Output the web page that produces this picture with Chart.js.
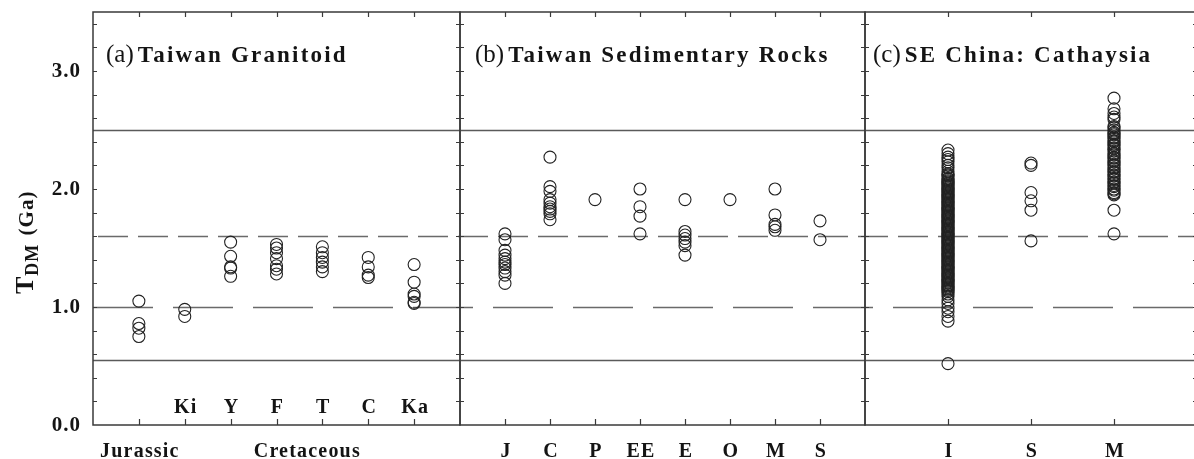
<!DOCTYPE html>
<html>
<head>
<meta charset="utf-8">
<script src="https://cdn.jsdelivr.net/npm/chart.js@4.4.1/dist/chart.umd.min.js"></script>
<style>
  html, body { margin: 0; padding: 0; background: #fff; overflow: hidden; }
  #wrap { position: relative; width: 1194px; height: 459px; overflow: hidden; background: #fff; }
  #wrap canvas { position: absolute; top: 0; }
</style>
</head>
<body>
<div id="wrap">
  <canvas id="panelA" width="470" height="459" style="left:0px"></canvas>
  <canvas id="panelB" width="425" height="459" style="left:450px"></canvas>
  <canvas id="panelC" width="352" height="459" style="left:855px"></canvas>
</div>
<script>
// ---- Nd model ages, T_DM (Ga) ----
const yTickLabels = ['0.0', '1.0', '2.0', '3.0'];

// (a) Taiwan granitoids by pluton
const granitoidUnits = ['Jurassic', 'Ki', 'Y', 'F', 'T', 'C', 'Ka'];
const granitoidInnerLabels = ['', 'Ki', 'Y', 'F', 'T', 'C', 'Ka'];
const granitoidPeriods = ['Jurassic', 'Cretaceous'];
const granitoidTdm = [
  [1.05, 0.86, 0.82, 0.75],
  [0.98, 0.92],
  [1.55, 1.43, 1.34, 1.33, 1.26],
  [1.53, 1.50, 1.46, 1.41, 1.35, 1.32, 1.28],
  [1.51, 1.46, 1.42, 1.38, 1.34, 1.30],
  [1.42, 1.34, 1.27, 1.25],
  [1.36, 1.21, 1.11, 1.09, 1.04, 1.03]
];

// (b) Taiwan sedimentary rocks by unit
const sedimentUnits = ['J', 'C', 'P', 'EE', 'E', 'O', 'M', 'S'];
const sedimentTdm = [
  [1.62, 1.57, 1.48, 1.44, 1.41, 1.38, 1.36, 1.33, 1.30, 1.27, 1.20],
  [2.27, 2.02, 1.98, 1.91, 1.88, 1.85, 1.83, 1.81, 1.79, 1.74],
  [1.91],
  [2.00, 1.85, 1.77, 1.62],
  [1.91, 1.64, 1.61, 1.58, 1.55, 1.52, 1.44],
  [1.91],
  [2.00, 1.78, 1.70, 1.68, 1.65],
  [1.73, 1.57]
];

// (c) SE China (Cathaysia) granite types
const cathaysiaTypes = ['I', 'S', 'M'];
const cathaysiaTdm = [
  [2.33, 2.30, 2.27, 2.25, 2.23, 2.20, 2.18, 2.15, 2.13, 2.12, 2.11, 2.09, 2.08, 2.07,
   2.06, 2.05, 2.04, 2.03, 2.02, 2.01, 2.00, 1.99, 1.98, 1.97, 1.96, 1.95, 1.94, 1.93,
   1.92, 1.91, 1.90, 1.89, 1.88, 1.87, 1.86, 1.85, 1.84, 1.83, 1.82, 1.81, 1.80, 1.79,
   1.78, 1.77, 1.76, 1.75, 1.74, 1.73, 1.72, 1.71, 1.70, 1.69, 1.68, 1.67, 1.66, 1.65,
   1.64, 1.63, 1.62, 1.61, 1.60, 1.59, 1.58, 1.57, 1.56, 1.55, 1.54, 1.53, 1.52, 1.51,
   1.50, 1.49, 1.48, 1.47, 1.46, 1.45, 1.44, 1.43, 1.42, 1.41, 1.40, 1.39, 1.38, 1.37,
   1.36, 1.35, 1.34, 1.33, 1.32, 1.31, 1.30, 1.29, 1.28, 1.27, 1.26, 1.25, 1.24, 1.23,
   1.22, 1.21, 1.20, 1.19, 1.18, 1.17, 1.16, 1.15, 1.14, 1.13, 1.11, 1.09, 1.06, 1.03,
   0.99, 0.96, 0.92, 0.88, 0.52],
  [2.22, 2.20, 1.97, 1.90, 1.82, 1.56],
  [2.77, 2.68, 2.64, 2.61, 2.59, 2.53, 2.52, 2.50, 2.48, 2.47, 2.46, 2.44, 2.43, 2.41,
   2.40, 2.38, 2.37, 2.35, 2.34, 2.32, 2.30, 2.29, 2.27, 2.26, 2.24, 2.23, 2.21, 2.20,
   2.18, 2.17, 2.15, 2.14, 2.12, 2.11, 2.09, 2.08, 2.06, 2.05, 2.03, 2.02, 2.00, 1.99,
   1.97, 1.96, 1.95, 1.82, 1.62]
];

// Reference age lines (Ga)
const solidLines = [2.5, 0.55];
const dashedLines = [
  { value: 1.6, dash: [30, 10], start: 98 },
  { value: 1.0, dash: [60, 20], start: 93 }
];

const SERIF = '"Liberation Serif", "Times New Roman", serif';
const INK = '#141414';

function toPoints(values) {
  return values.flatMap((list, i) => list.map(v => ({ x: i + 1, y: v })));
}

const panelPlugin = {
  id: 'panelFrame',
  beforeDatasetsDraw(chart, args, o) {
    const { ctx, chartArea: a, scales: { y } } = chart;
    const pageLeft = chart.canvas.offsetLeft + a.left;
    ctx.save();
    ctx.lineWidth = 1.4;
    ctx.strokeStyle = '#5a5a5a';
    solidLines.forEach(v => {
      const py = Math.round(y.getPixelForValue(v)) + 0.5;
      ctx.beginPath(); ctx.moveTo(a.left, py); ctx.lineTo(a.right, py); ctx.stroke();
    });
    ctx.strokeStyle = '#6a6a6a';
    dashedLines.forEach(d => {
      const period = d.dash[0] + d.dash[1];
      ctx.setLineDash(d.dash);
      ctx.lineDashOffset = (((pageLeft - d.start) % period) + period) % period;
      const py = Math.round(y.getPixelForValue(d.value)) + 0.5;
      ctx.beginPath(); ctx.moveTo(a.left, py); ctx.lineTo(a.right, py); ctx.stroke();
    });
    ctx.restore();
  },
  afterDatasetsDraw(chart, args, o) {
    const { ctx, chartArea: a, scales: { x, y } } = chart;
    ctx.save();
    // frame
    ctx.strokeStyle = '#3a3a3a';
    ctx.lineWidth = 1.5;
    ctx.strokeRect(a.left, a.top, a.right - a.left, a.bottom - a.top);
    // inward ticks on the age axes, every 0.2 Ga
    ctx.lineWidth = 1.2;
    ctx.beginPath();
    for (let k = 1; k <= 17; k++) {
      const py = Math.round(y.getPixelForValue(k * 0.2)) + 0.5;
      ctx.moveTo(a.left, py); ctx.lineTo(a.left + 4, py);
      ctx.moveTo(a.right, py); ctx.lineTo(a.right - 4, py);
    }
    // inward ticks at each category, top and bottom
    for (let i = 1; i <= o.count; i++) {
      const px = Math.round(x.getPixelForValue(i)) + 0.5;
      ctx.moveTo(px, a.top); ctx.lineTo(px, a.top + 5);
      ctx.moveTo(px, a.bottom); ctx.lineTo(px, a.bottom - 6);
    }
    ctx.stroke();

    ctx.fillStyle = INK;

    // age tick labels
    if (o.ageLabels) {
      ctx.textAlign = 'right';
      ctx.textBaseline = 'middle';
      ctx.font = 'bold 21px ' + SERIF;
      ctx.letterSpacing = '1px';
      yTickLabels.forEach(t => {
        ctx.fillText(t, a.left - 12, y.getPixelForValue(parseFloat(t)) + 1);
      });
    }

    ctx.textAlign = 'center';
    ctx.textBaseline = 'alphabetic';
    ctx.font = 'bold 20px ' + SERIF;
    ctx.letterSpacing = '1.2px';
    (o.innerLabels || []).forEach((t, i) => {
      if (t) ctx.fillText(t, x.getPixelForValue(i + 1) + 1, 413);
    });
    (o.bottomLabels || []).forEach((t, i) => {
      ctx.fillText(t, x.getPixelForValue(i + 1) + 1, 457);
    });
    (o.groups || []).forEach(g => {
      ctx.fillText(g.text, x.getPixelForValue(g.at) + 1, 457);
    });

    // panel title
    ctx.textAlign = 'left';
    ctx.letterSpacing = '0px';
    ctx.font = '25px ' + SERIF;
    const tx = a.left + o.titleDx;
    ctx.fillText(o.tag, tx, 62);
    const tagW = ctx.measureText(o.tag).width;
    ctx.font = 'bold 23px ' + SERIF;
    ctx.letterSpacing = '2.2px';
    ctx.fillText(o.title, tx + tagW + 4, 62);

    // axis title with subscript
    if (o.yTitle) {
      ctx.letterSpacing = '1px';
      ctx.translate(33, 294);
      ctx.rotate(-Math.PI / 2);
      ctx.font = 'bold 26px ' + SERIF;
      ctx.fillText('T', 0, 0);
      let w = ctx.measureText('T').width;
      ctx.font = 'bold 18px ' + SERIF;
      ctx.fillText('DM', w, 5);
      w += ctx.measureText('DM').width;
      ctx.font = 'bold 21px ' + SERIF;
      ctx.fillText(' (Ga)', w + 2, 0);
    }
    ctx.restore();
  }
};

function makePanel(id, units, values, panelOpts, pad) {
  return new Chart(document.getElementById(id), {
    type: 'scatter',
    data: {
      datasets: [{
        data: toPoints(values),
        pointStyle: 'circle',
        pointRadius: 6,
        pointHoverRadius: 6,
        borderWidth: 1.1,
        borderColor: '#222',
        backgroundColor: 'rgba(0,0,0,0)',
        clip: 8
      }]
    },
    options: {
      responsive: false,
      animation: false,
      devicePixelRatio: 1,
      events: [],
      layout: { padding: pad },
      scales: {
        x: { type: 'linear', min: 0, max: units.length + 1, display: false },
        y: { type: 'linear', min: 0, max: 3.5, display: false }
      },
      plugins: {
        legend: { display: false },
        tooltip: { enabled: false },
        panelFrame: Object.assign({ count: units.length }, panelOpts)
      }
    },
    plugins: [panelPlugin]
  });
}

makePanel('panelA', granitoidUnits, granitoidTdm, {
  tag: '(a)', title: 'Taiwan Granitoid', titleDx: 13,
  innerLabels: granitoidInnerLabels,
  groups: [{ text: granitoidPeriods[0], at: 1 }, { text: granitoidPeriods[1], at: 4.65 }],
  ageLabels: true,
  yTitle: true
}, { left: 93, right: 10, top: 12, bottom: 34 });

makePanel('panelB', sedimentUnits, sedimentTdm, {
  tag: '(b)', title: 'Taiwan Sedimentary Rocks', titleDx: 15,
  bottomLabels: sedimentUnits
}, { left: 10, right: 10, top: 12, bottom: 34 });

makePanel('panelC', cathaysiaTypes, cathaysiaTdm, {
  tag: '(c)', title: 'SE China: Cathaysia', titleDx: 8,
  bottomLabels: cathaysiaTypes
}, { left: 10, right: 10, top: 12, bottom: 34 });
</script>
</body>
</html>
